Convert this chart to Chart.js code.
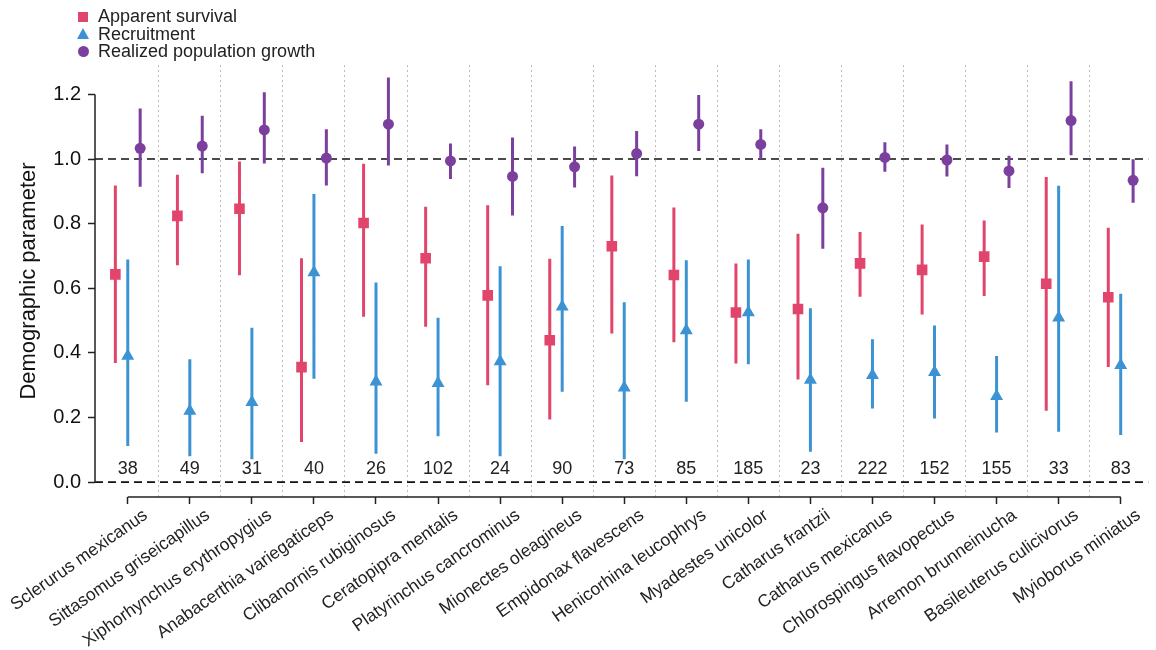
<!DOCTYPE html>
<html>
<head>
<meta charset="utf-8">
<title>Demographic parameters</title>
<script src="https://cdn.jsdelivr.net/npm/chart.js@4.4.0/dist/chart.umd.min.js"></script>
<style>
    body { margin: 0; background: #fff; }
    #wrap { position: relative; width: 1156px; height: 650px; font-family: Arial, "Liberation Sans", sans-serif; }
    #legend { position: absolute; left: 76px; top: 8px; font-size: 18px; color: #222; }
    #legend .item { height: 17.5px; line-height: 17.5px; position: relative; padding-left: 22px; white-space: nowrap; }
    #legend .mk { position: absolute; left: 0; top: 50%; }
</style>
</head>
<body>
<div id="wrap">
    <canvas id="chart"></canvas>
    <div id="legend"></div>
</div>
<script>
// Species (x categories)
const species = [
    'Sclerurus mexicanus', 'Sittasomus griseicapillus', 'Xiphorhynchus erythropygius',
    'Anabacerthia variegaticeps', 'Clibanornis rubiginosus', 'Ceratopipra mentalis',
    'Platyrinchus cancrominus', 'Mionectes oleagineus', 'Empidonax flavescens',
    'Henicorhina leucophrys', 'Myadestes unicolor', 'Catharus frantzii',
    'Catharus mexicanus', 'Chlorospingus flavopectus', 'Arremon brunneinucha',
    'Basileuterus culicivorus', 'Myioborus miniatus'
];
const sampleSizes = [38, 49, 31, 40, 26, 102, 24, 90, 73, 85, 185, 23, 222, 152, 155, 33, 83];

// Apparent survival
const survival   = [0.643, 0.824, 0.846, 0.356, 0.802, 0.693, 0.578, 0.439, 0.730, 0.641, 0.525, 0.536, 0.677, 0.657, 0.698, 0.614, 0.572];
const survivalLo = [0.369, 0.671, 0.640, 0.124, 0.512, 0.481, 0.300, 0.194, 0.460, 0.433, 0.367, 0.318, 0.574, 0.519, 0.576, 0.221, 0.356];
const survivalHi = [0.918, 0.951, 0.992, 0.693, 0.985, 0.852, 0.857, 0.691, 0.949, 0.850, 0.677, 0.769, 0.774, 0.797, 0.810, 0.944, 0.787];

// Recruitment
const recruitment   = [0.390, 0.220, 0.247, 0.649, 0.311, 0.306, 0.373, 0.543, 0.292, 0.469, 0.525, 0.316, 0.331, 0.340, 0.266, 0.509, 0.362];
const recruitmentLo = [0.112, 0.080, 0.071, 0.320, 0.088, 0.142, 0.080, 0.280, 0.071, 0.249, 0.365, 0.094, 0.228, 0.197, 0.154, 0.156, 0.146];
const recruitmentHi = [0.689, 0.380, 0.478, 0.892, 0.618, 0.509, 0.668, 0.793, 0.557, 0.687, 0.689, 0.538, 0.442, 0.485, 0.390, 0.917, 0.583];

// Realized population growth
const growth   = [1.033, 1.040, 1.090, 1.003, 1.108, 0.994, 0.946, 0.976, 1.017, 1.108, 1.045, 0.849, 1.005, 0.997, 0.963, 1.119, 0.934];
const growthLo = [0.914, 0.956, 0.986, 0.918, 0.980, 0.938, 0.825, 0.912, 0.947, 1.025, 1.000, 0.722, 0.961, 0.946, 0.910, 1.012, 0.865];
const growthHi = [1.156, 1.134, 1.207, 1.092, 1.252, 1.048, 1.067, 1.039, 1.087, 1.198, 1.092, 0.973, 1.052, 1.045, 1.010, 1.241, 0.999];

const yTicks = [0, 0.2, 0.4, 0.6, 0.8, 1.0, 1.2];
const refLines = [0, 1];
const nLabelY = 0.04;

const X_MIN = -0.528, X_MAX = 16.448;
const Y_MIN = -0.046, Y_MAX = 1.291;

const series = [
    { label: 'Apparent survival', color: '#e1456b', style: 'rect', radius: 7.5, offset: -0.2, mid: survival, lo: survivalLo, hi: survivalHi },
    { label: 'Recruitment', color: '#3c93d4', style: 'triangle', radius: 7.5, offset: 0, mid: recruitment, lo: recruitmentLo, hi: recruitmentHi },
    { label: 'Realized population growth', color: '#7b3f9e', style: 'circle', radius: 5.5, offset: 0.2, mid: growth, lo: growthLo, hi: growthHi }
];

// point markers first so they sit on top of the bars
const datasets = [];
series.forEach(s => {
    datasets.push({
        type: 'scatter',
        label: s.label,
        data: s.mid.map((v, i) => ({ x: i + s.offset, y: v })),
        pointStyle: s.style,
        pointRadius: s.radius,
        pointBackgroundColor: s.color,
        pointBorderWidth: 0,
        borderColor: s.color
    });
});
series.forEach(s => {
    const pts = [];
    s.lo.forEach((lo, i) => {
        pts.push({ x: i + s.offset, y: lo });
        pts.push({ x: i + s.offset, y: s.hi[i] });
        pts.push({ x: i + s.offset, y: null });
    });
    datasets.push({
        type: 'line',
        label: s.label + ' CI',
        data: pts,
        borderColor: s.color,
        borderWidth: 3,
        borderCapStyle: 'butt',
        pointRadius: 0,
        spanGaps: false
    });
});
refLines.forEach(v => {
    datasets.push({
        type: 'line',
        label: 'ref ' + v,
        data: [{ x: X_MIN, y: v }, { x: X_MAX, y: v }],
        borderColor: '#111',
        borderWidth: 1.6,
        borderDash: [8, 5],
        pointRadius: 0
    });
});

// axis lines that stop at the first/last tick, R style
const axisLines = {
    id: 'axisLines',
    afterDatasetsDraw(chart) {
        const { ctx, scales: { x, y }, chartArea } = chart;
        ctx.save();
        ctx.strokeStyle = '#222';
        ctx.lineWidth = 1.5;
        ctx.beginPath();
        ctx.moveTo(chartArea.left, y.getPixelForValue(yTicks[0]));
        ctx.lineTo(chartArea.left, y.getPixelForValue(yTicks[yTicks.length - 1]));
        ctx.moveTo(x.getPixelForValue(0), chartArea.bottom);
        ctx.lineTo(x.getPixelForValue(species.length - 1), chartArea.bottom);
        ctx.stroke();

        ctx.fillStyle = '#222';
        ctx.font = '18px Arial, "Liberation Sans", sans-serif';
        ctx.textAlign = 'center';
        ctx.textBaseline = 'middle';
        sampleSizes.forEach((n, i) => {
            ctx.fillText(String(n), x.getPixelForValue(i), y.getPixelForValue(nLabelY));
        });
        ctx.restore();
    }
};

new Chart(document.getElementById('chart'), {
    data: { datasets },
    options: {
        responsive: true,
        maintainAspectRatio: false,
        animation: false,
        layout: { padding: { top: 65, left: 0, right: 0, bottom: 0 } },
        plugins: { legend: { display: false }, tooltip: { enabled: false } },
        scales: {
            x: {
                type: 'linear',
                position: 'bottom',
                min: X_MIN,
                max: X_MAX,
                afterBuildTicks: scale => { scale.ticks = species.map((_, i) => ({ value: i })); },
                afterFit: scale => { scale.height = 153; scale.paddingLeft = 0; scale.paddingRight = 0; },
                grid: { drawOnChartArea: false, drawTicks: true, tickLength: 7, color: '#222', tickWidth: 1.5 },
                border: { display: false },
                ticks: {
                    autoSkip: false,
                    maxRotation: 35,
                    minRotation: 35,
                    padding: 1,
                    labelOffset: 18,
                    color: '#222',
                    font: { family: 'Arial, "Liberation Sans", sans-serif', size: 17.5 },
                    callback: v => species[v]
                }
            },
            sep: {
                type: 'linear',
                position: 'top',
                min: X_MIN,
                max: X_MAX,
                afterBuildTicks: scale => { scale.ticks = species.slice(1).map((_, i) => ({ value: i + 0.5 })); },
                afterFit: scale => { scale.height = 0; },
                grid: { drawOnChartArea: true, drawTicks: false, color: '#bdbdbd', lineWidth: 1 },
                border: { display: false, dash: [2, 3] },
                ticks: { display: false }
            },
            y: {
                type: 'linear',
                min: Y_MIN,
                max: Y_MAX,
                afterBuildTicks: scale => { scale.ticks = yTicks.map(v => ({ value: v })); },
                afterFit: scale => { scale.width = 95; },
                grid: { drawOnChartArea: false, drawTicks: true, tickLength: 7, color: '#222', tickWidth: 1.5 },
                border: { display: false },
                title: {
                    display: true,
                    text: 'Demographic parameter',
                    color: '#111',
                    font: { family: 'Arial, "Liberation Sans", sans-serif', size: 22 },
                    padding: { top: 16, bottom: 0 }
                },
                ticks: {
                    padding: 7,
                    color: '#111',
                    font: { family: 'Arial, "Liberation Sans", sans-serif', size: 20 },
                    callback: v => v.toFixed(1)
                }
            }
        }
    },
    plugins: [axisLines]
});

// legend built from the series definitions
const legendEl = document.getElementById('legend');
series.forEach(s => {
    const item = document.createElement('div');
    item.className = 'item';
    const mk = document.createElement('span');
    mk.className = 'mk';
    if (s.style === 'rect') {
        Object.assign(mk.style, { width: '10px', height: '10px', marginTop: '-5px', left: '2px', background: s.color });
    } else if (s.style === 'triangle') {
        Object.assign(mk.style, { width: 0, height: 0, marginTop: '-6px', left: '1px',
            borderLeft: '6px solid transparent', borderRight: '6px solid transparent', borderBottom: '11px solid ' + s.color });
    } else {
        Object.assign(mk.style, { width: '11px', height: '11px', marginTop: '-5.5px', left: '1.5px', borderRadius: '50%', background: s.color });
    }
    item.appendChild(mk);
    item.appendChild(document.createTextNode(s.label));
    legendEl.appendChild(item);
});
</script>
</body>
</html>
